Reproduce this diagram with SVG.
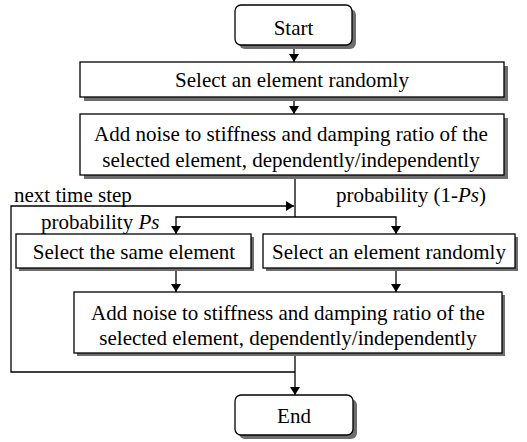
<svg xmlns="http://www.w3.org/2000/svg" width="527" height="442" viewBox="0 0 527 442">
<style>
.box{fill:#fff;stroke:#000;stroke-width:1.3}
.sh{fill:#6e6e6e}
.t{font-family:"Liberation Serif","Times New Roman",serif;font-size:21px;fill:#000}
.c{text-anchor:middle}
.ln{fill:none;stroke:#000;stroke-width:1.3}
</style>
<defs>
<marker id="ah" viewBox="0 0 8 10" refX="8" refY="5" markerWidth="8" markerHeight="10" markerUnits="userSpaceOnUse" orient="auto">
<path d="M0,0 L8,5 L0,10 Z" fill="#000"/>
</marker>
</defs>
<rect width="527" height="442" fill="#fff"/>
<g id="start">
<rect class="sh" x="239" y="9" width="117" height="40" rx="6"/>
<rect class="box" x="235" y="5" width="117" height="40" rx="6"/>
<text class="t c" x="293.5" y="35">Start</text>
</g>
<g id="select1">
<rect class="sh" x="84" y="66" width="424" height="35"/>
<rect class="box" x="80" y="62" width="424" height="35"/>
<text class="t c" x="292" y="87">Select an element randomly</text>
</g>
<g id="noise1">
<rect class="sh" x="84" y="118" width="424" height="61"/>
<rect class="box" x="80" y="114" width="424" height="61"/>
<text class="t c" x="291" y="141">Add noise to stiffness and damping ratio of the</text>
<text class="t c" x="291" y="167">selected element, dependently/independently</text>
</g>
<g id="same">
<rect class="sh" x="19" y="237" width="235" height="34"/>
<rect class="box" x="16" y="234" width="235" height="34"/>
<text class="t c" x="134" y="259">Select the same element</text>
</g>
<g id="select2">
<rect class="sh" x="266" y="237" width="252" height="34"/>
<rect class="box" x="263" y="234" width="252" height="34"/>
<text class="t c" x="389" y="259">Select an element randomly</text>
</g>
<g id="noise2">
<rect class="sh" x="77" y="295" width="428" height="61"/>
<rect class="box" x="74" y="292" width="428" height="61"/>
<text class="t c" x="288" y="320">Add noise to stiffness and damping ratio of the</text>
<text class="t c" x="288" y="345">selected element, dependently/independently</text>
</g>
<g id="end">
<rect class="sh" x="239" y="399" width="118" height="40" rx="6"/>
<rect class="box" x="235" y="395" width="118" height="40" rx="6"/>
<text class="t c" x="294" y="423">End</text>
</g>
<g id="connectors">
<line class="ln" x1="294" y1="49" x2="294" y2="62" marker-end="url(#ah)"/>
<line class="ln" x1="294" y1="101" x2="294" y2="114" marker-end="url(#ah)"/>
<polyline class="ln" points="295,179 295,217"/>
<polyline class="ln" points="295,217 176,217 176,234" marker-end="url(#ah)"/>
<polyline class="ln" points="295,217 396,217 396,234" marker-end="url(#ah)"/>
<line class="ln" x1="176" y1="271" x2="176" y2="292" marker-end="url(#ah)"/>
<line class="ln" x1="396" y1="271" x2="396" y2="292" marker-end="url(#ah)"/>
<line class="ln" x1="295" y1="356" x2="295" y2="395" marker-end="url(#ah)"/>
<polyline class="ln" points="295,372 11,372 11,206 294,206" marker-end="url(#ah)"/>
<text class="t" x="14" y="202">next time step</text>
<text class="t" x="336" y="202">probability (1-<tspan font-style="italic">Ps</tspan>)</text>
<text class="t" x="41" y="229">probability <tspan font-style="italic">Ps</tspan></text>
</g>
</svg>
